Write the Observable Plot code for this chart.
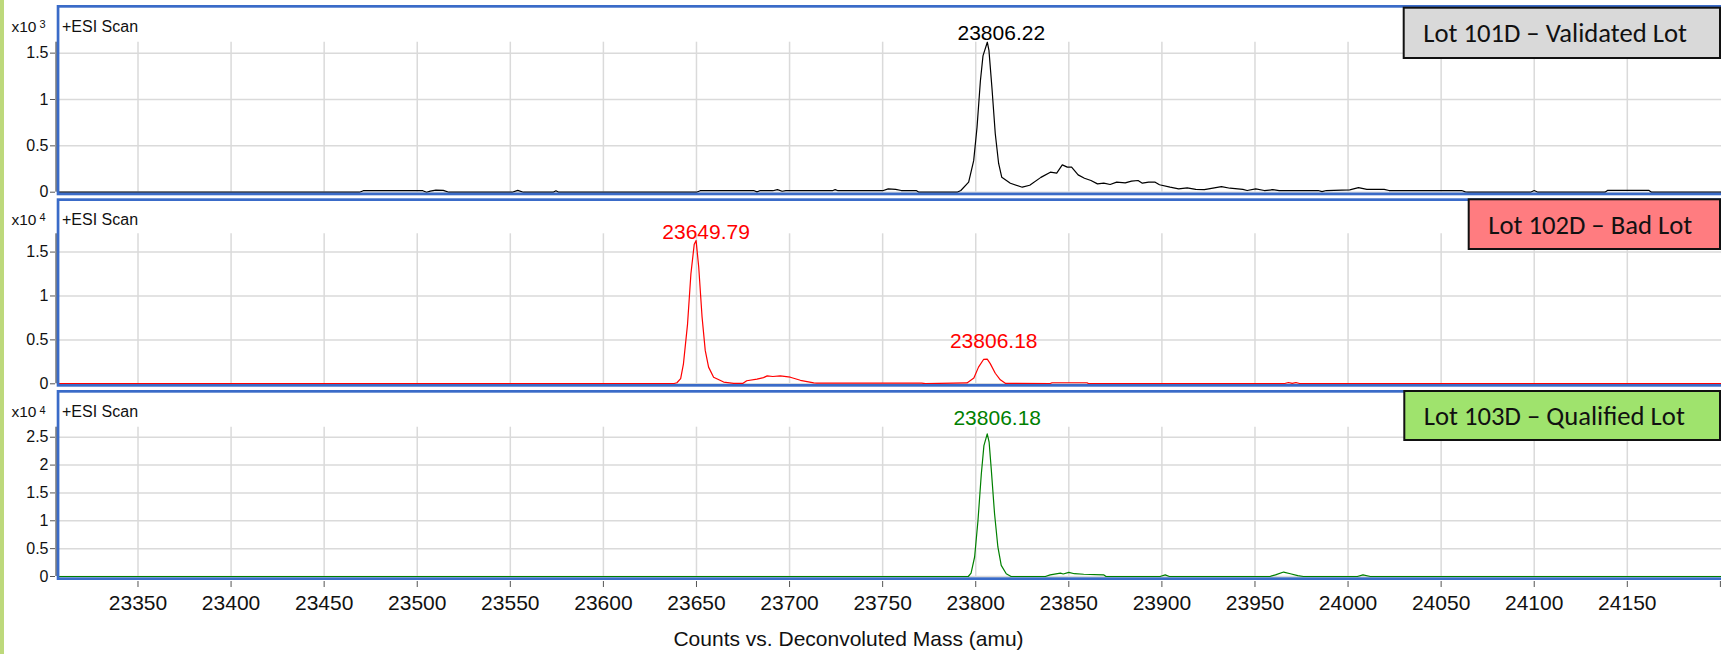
<!DOCTYPE html>
<html>
<head>
<meta charset="utf-8">
<script src="https://cdn.jsdelivr.net/npm/d3@7"></script>
<script src="https://cdn.jsdelivr.net/npm/@observablehq/plot@0.6"></script>
<style>
  html, body { margin: 0; padding: 0; background: #fff; }
  #chart { position: relative; width: 1721px; height: 654px; overflow: hidden;
           font-family: "Liberation Sans", Arial, sans-serif; color: #111; }
  #chart svg.panel { position: absolute; left: 0; overflow: visible; background: transparent; }
  #overlay { position: absolute; left: 0; top: 0; pointer-events: none; }
  #strip { position: absolute; left: 0; top: 0; width: 3.5px; height: 654px; background: #bdd97b; }
</style>
</head>
<body>
<div id="chart"><div id="strip"></div></div>
<script>
// ---- Deconvoluted mass axis ----
const massDomain = [23307.3, 24200.6];
const massTicks = [23350, 23400, 23450, 23500, 23550, 23600, 23650, 23700, 23750,
                   23800, 23850, 23900, 23950, 24000, 24050, 24100, 24150];
const massEdgeTicks = [24200];

// ---- Lot 101D (counts x10^3) ----
const lot101Mass = [23307.3, 23469, 23471, 23503, 23505, 23507, 23510, 23514, 23517, 23551, 23554, 23557,
  23573, 23574.5, 23576, 23650, 23652, 23681, 23682.5, 23684, 23691, 23693.5, 23696, 23698, 23723, 23724.5,
  23726, 23750, 23753, 23757, 23760, 23768, 23769.5, 23790, 23792, 23796.2, 23798.9, 23800.7, 23802.5,
  23803.9, 23806.22, 23807.1, 23808.7, 23810.5, 23812.3, 23814, 23818.6, 23825, 23829, 23835, 23840.1,
  23843.5, 23846.5, 23849.2, 23851.5, 23855, 23858.4, 23861.9, 23865.4, 23868.8, 23872.2, 23875.7,
  23880.3, 23883.7, 23887.2, 23889.5, 23892.9, 23896.4, 23898.7, 23904.4, 23909, 23913.6, 23918.2,
  23922.8, 23925.1, 23932, 23936.6, 23943.5, 23945.8, 23950.4, 23955, 23959.6, 23963, 23984, 23986,
  23988.3, 24000.9, 24005.6, 24010.1, 24019.4, 24022, 24061, 24063, 24064.5, 24098, 24100, 24102,
  24138, 24139.5, 24161.5, 24163, 24200.6];
const lot101Counts = [0, 0, 0.016, 0.016, 0, 0.012, 0.022, 0.02, 0, 0, 0.02, 0,
  0, 0.015, 0, 0, 0.016, 0.016, 0.003, 0.016, 0.016, 0.028, 0.01, 0.016, 0.016, 0.028,
  0.016, 0.016, 0.036, 0.03, 0.018, 0.018, 0, 0, 0.018, 0.108, 0.34, 0.70, 1.2,
  1.47, 1.618, 1.53, 1.13, 0.63, 0.31, 0.16, 0.097, 0.054, 0.075, 0.16, 0.216,
  0.205, 0.295, 0.27, 0.27, 0.187, 0.151, 0.126, 0.09, 0.097, 0.083, 0.108,
  0.10, 0.119, 0.126, 0.097, 0.108, 0.108, 0.08, 0.054, 0.036, 0.047, 0.03,
  0.027, 0.036, 0.061, 0.043, 0.03, 0.018, 0.036, 0.018, 0.027, 0.018, 0.018, 0.007,
  0.018, 0.025, 0.05, 0.03, 0.03, 0.018, 0.018, 0.004, 0, 0, 0.018, 0,
  0, 0.02, 0.02, 0, 0];

// ---- Lot 102D (counts x10^4) ----
const lot102Mass = [23307.3, 23638, 23639.5, 23641.5, 23643, 23645.2, 23647, 23648.8, 23649.79, 23651.2,
  23653, 23654.7, 23656.5, 23659.2, 23664.6, 23670, 23675, 23677, 23682.5, 23686, 23688, 23691, 23695,
  23700.4, 23705.8, 23713, 23714.7, 23771, 23773, 23795.3, 23799, 23801.5, 23804.2, 23806.18, 23807.8,
  23810.5, 23813.2, 23815.9, 23840, 23841, 23859.8, 23860.5, 23966, 23968, 23970, 23972, 23974, 24200.6];
const lot102Counts = [0.003, 0.003, 0.012, 0.06, 0.228, 0.68, 1.25, 1.59, 1.63, 1.33,
  0.76, 0.38, 0.19, 0.075, 0.02, 0.005, 0.005, 0.035, 0.053, 0.07, 0.09, 0.083, 0.09,
  0.075, 0.04, 0.01, 0.008, 0.008, 0.002, 0.01, 0.065, 0.19, 0.277, 0.28, 0.23,
  0.12, 0.045, 0.005, 0.003, 0.012, 0.012, 0.003, 0.003, 0.015, 0.005, 0.015, 0.003, 0.003];

// ---- Lot 103D (counts x10^4) ----
const lot103Mass = [23307.3, 23796, 23797.5, 23799.4, 23801.2, 23803, 23804.4, 23806.18, 23807.2, 23808.4,
  23810.1, 23811.9, 23813.7, 23816.4, 23819, 23837.4, 23840, 23845.5, 23847, 23850, 23853, 23858,
  23868.7, 23870, 23899, 23901.8, 23904, 23958, 23961, 23965.4, 23969, 23973, 23976, 24005, 24008,
  24012, 24200.6];
const lot103Counts = [0, 0, 0.06, 0.35, 1.0, 1.84, 2.35, 2.56, 2.41, 1.9,
  1.13, 0.53, 0.2, 0.05, 0, 0, 0.03, 0.06, 0.045, 0.075, 0.05, 0.04,
  0.03, 0, 0, 0.03, 0, 0, 0.03, 0.08, 0.05, 0.015, 0, 0, 0.03,
  0, 0];

// ---- Per-lot labels, scales and annotated peaks ----
const lotNames = ["Lot 101D – Validated Lot", "Lot 102D – Bad Lot", "Lot 103D – Qualified Lot"];
const lotColors = ["#000000", "#ff0000", "#008000"];
const lotBoxColors = ["#d9d9d9", "#ff7c80", "#9fe36d"];
const countExponents = [3, 4, 4];
const countMax = [1.618, 1.708, 2.68];
const countTicks = [[0, 0.5, 1, 1.5], [0, 0.5, 1, 1.5], [0, 0.5, 1, 1.5, 2, 2.5]];
const peakMasses = [[23806.22], [23649.79, 23806.18], [23806.18]];
const scanLabel = "+ESI Scan";
const massTitle = "Counts vs. Deconvoluted Mass (amu)";

const traces = [
  [lot101Mass, lot101Counts],
  [lot102Mass, lot102Counts],
  [lot103Mass, lot103Counts]
];

// ---- Layout (pixels) ----
const W = 1721, H = 654;
const marginLeft = 58;
const layout = [
  {svgTop: 0,   svgHeight: 196, axisTop: 41.7,  zero: 191.7, frameTop: 5,   frameBottom: 195.3, textBase: 32,
   box: {x: 1402.7, y: 6.7, h: 52.3}, peakOffsets: [[14, -2.7]]},
  {svgTop: 196, svgHeight: 192, axisTop: 233.3, zero: 383.3, frameTop: 198.3, frameBottom: 386.7, textBase: 224.5,
   box: {x: 1467.7, y: 198.3, h: 51.7}, peakOffsets: [[10, -2], [6.5, -11.7]]},
  {svgTop: 388, svgHeight: 266, axisTop: 426.7, zero: 576, frameTop: 390, frameBottom: 580, textBase: 417.3,
   box: {x: 1403.3, y: 390, h: 51}, peakOffsets: [[10, -8.4]]}
];

const chart = document.getElementById("chart");
const fontFamily = '"Liberation Sans", Arial, sans-serif';
const gridStyle = {stroke: "#dadada", strokeOpacity: 1, strokeWidth: 1.5};

layout.forEach((L, i) => {
  const [mass, counts] = traces[i];
  const rows = mass.map((m, j) => ({mass: m, counts: counts[j]}));
  const peaks = peakMasses[i].map(pm => rows.find(r => r.mass === pm));
  const isBottom = i === layout.length - 1;

  const marks = [
    Plot.gridY(countTicks[i], gridStyle),
    Plot.gridX(massTicks, gridStyle),
    Plot.ruleX([massDomain[0]], {stroke: "#808080", strokeWidth: 2, dx: -2.3}),
    Plot.axisY(countTicks[i], {anchor: "left", tickSize: 5, tickPadding: 2, dx: -3, label: null,
      fontSize: 16, stroke: "#555", tickFormat: d => String(d)}),
    Plot.line(rows, {x: "mass", y: "counts", stroke: lotColors[i], strokeWidth: 1.2})
  ];
  peaks.forEach((p, k) => {
    const [dx, dy] = L.peakOffsets[k];
    marks.push(Plot.text([p], {x: "mass", y: "counts", text: d => d.mass.toFixed(2),
      fill: lotColors[i], fontSize: 21, lineAnchor: "bottom", textAnchor: "middle", dx, dy}));
  });
  if (isBottom) {
    marks.push(Plot.axisX(massTicks.concat(massEdgeTicks), {anchor: "bottom", tickSize: 6, tickPadding: 8,
      dy: 5, fontSize: 21, stroke: "#555", label: null,
      tickFormat: d => massEdgeTicks.includes(d) ? "" : String(d)}));
  }

  const svg = Plot.plot({
    width: W,
    height: L.svgHeight,
    marginLeft,
    marginRight: 0,
    marginTop: L.axisTop - L.svgTop,
    marginBottom: L.svgTop + L.svgHeight - L.zero,
    x: {domain: massDomain, axis: null},
    y: {domain: [0, countMax[i]], axis: null},
    style: {fontFamily, background: "transparent", overflow: "visible", color: "#111"},
    marks
  });
  svg.classList.add("panel");
  svg.style.top = L.svgTop + "px";
  chart.appendChild(svg);
});

// ---- Frames, headers, lot boxes and the mass title ----
const overlay = d3.select(chart).append("svg")
  .attr("id", "overlay").attr("width", W).attr("height", H)
  .style("font-family", fontFamily);

const frameStroke = 2.7;
layout.forEach((L, i) => {
  overlay.append("rect")
    .attr("x", 56.7 + frameStroke / 2).attr("y", L.frameTop + frameStroke / 2)
    .attr("width", W)
    .attr("height", L.frameBottom - L.frameTop - frameStroke)
    .attr("fill", "none").attr("stroke", "#3a6bc8").attr("stroke-width", frameStroke);

  overlay.append("text").attr("x", 62).attr("y", L.textBase)
    .attr("font-size", 16).attr("fill", "#111").text(scanLabel);

  const exp = overlay.append("text").attr("x", 11.5).attr("y", L.textBase)
    .attr("font-size", 15.5).attr("fill", "#111").text("x10");
  exp.append("tspan").attr("dx", 3).attr("dy", -3.8).attr("font-size", 11).text(countExponents[i]);
});

overlay.append("text").attr("x", 848.5).attr("y", 646)
  .attr("text-anchor", "middle").attr("font-size", 21).attr("fill", "#111").text(massTitle);

// Lot boxes: sized in a Calibri-like face, fitted to the box text width
const boxFont = 'Carlito, Lato, "Open Sans", sans-serif';
const probe = overlay.append("text").attr("font-family", boxFont).attr("font-size", 24).text(lotNames[0]);
const boxFontSize = 24 * 264 / probe.node().getComputedTextLength();
probe.remove();

layout.forEach((L, i) => {
  const b = L.box;
  overlay.append("rect")
    .attr("x", b.x + 1).attr("y", b.y + 1)
    .attr("width", W - 1 - (b.x + 1)).attr("height", b.h - 2)
    .attr("fill", lotBoxColors[i]).attr("stroke", "#111").attr("stroke-width", 2);
  overlay.append("text")
    .attr("x", b.x + 20.5).attr("y", b.y + b.h / 2 + 0.36 * boxFontSize)
    .attr("font-family", boxFont).attr("font-size", boxFontSize).attr("fill", "#111")
    .text(lotNames[i]);
});
</script>
</body>
</html>
